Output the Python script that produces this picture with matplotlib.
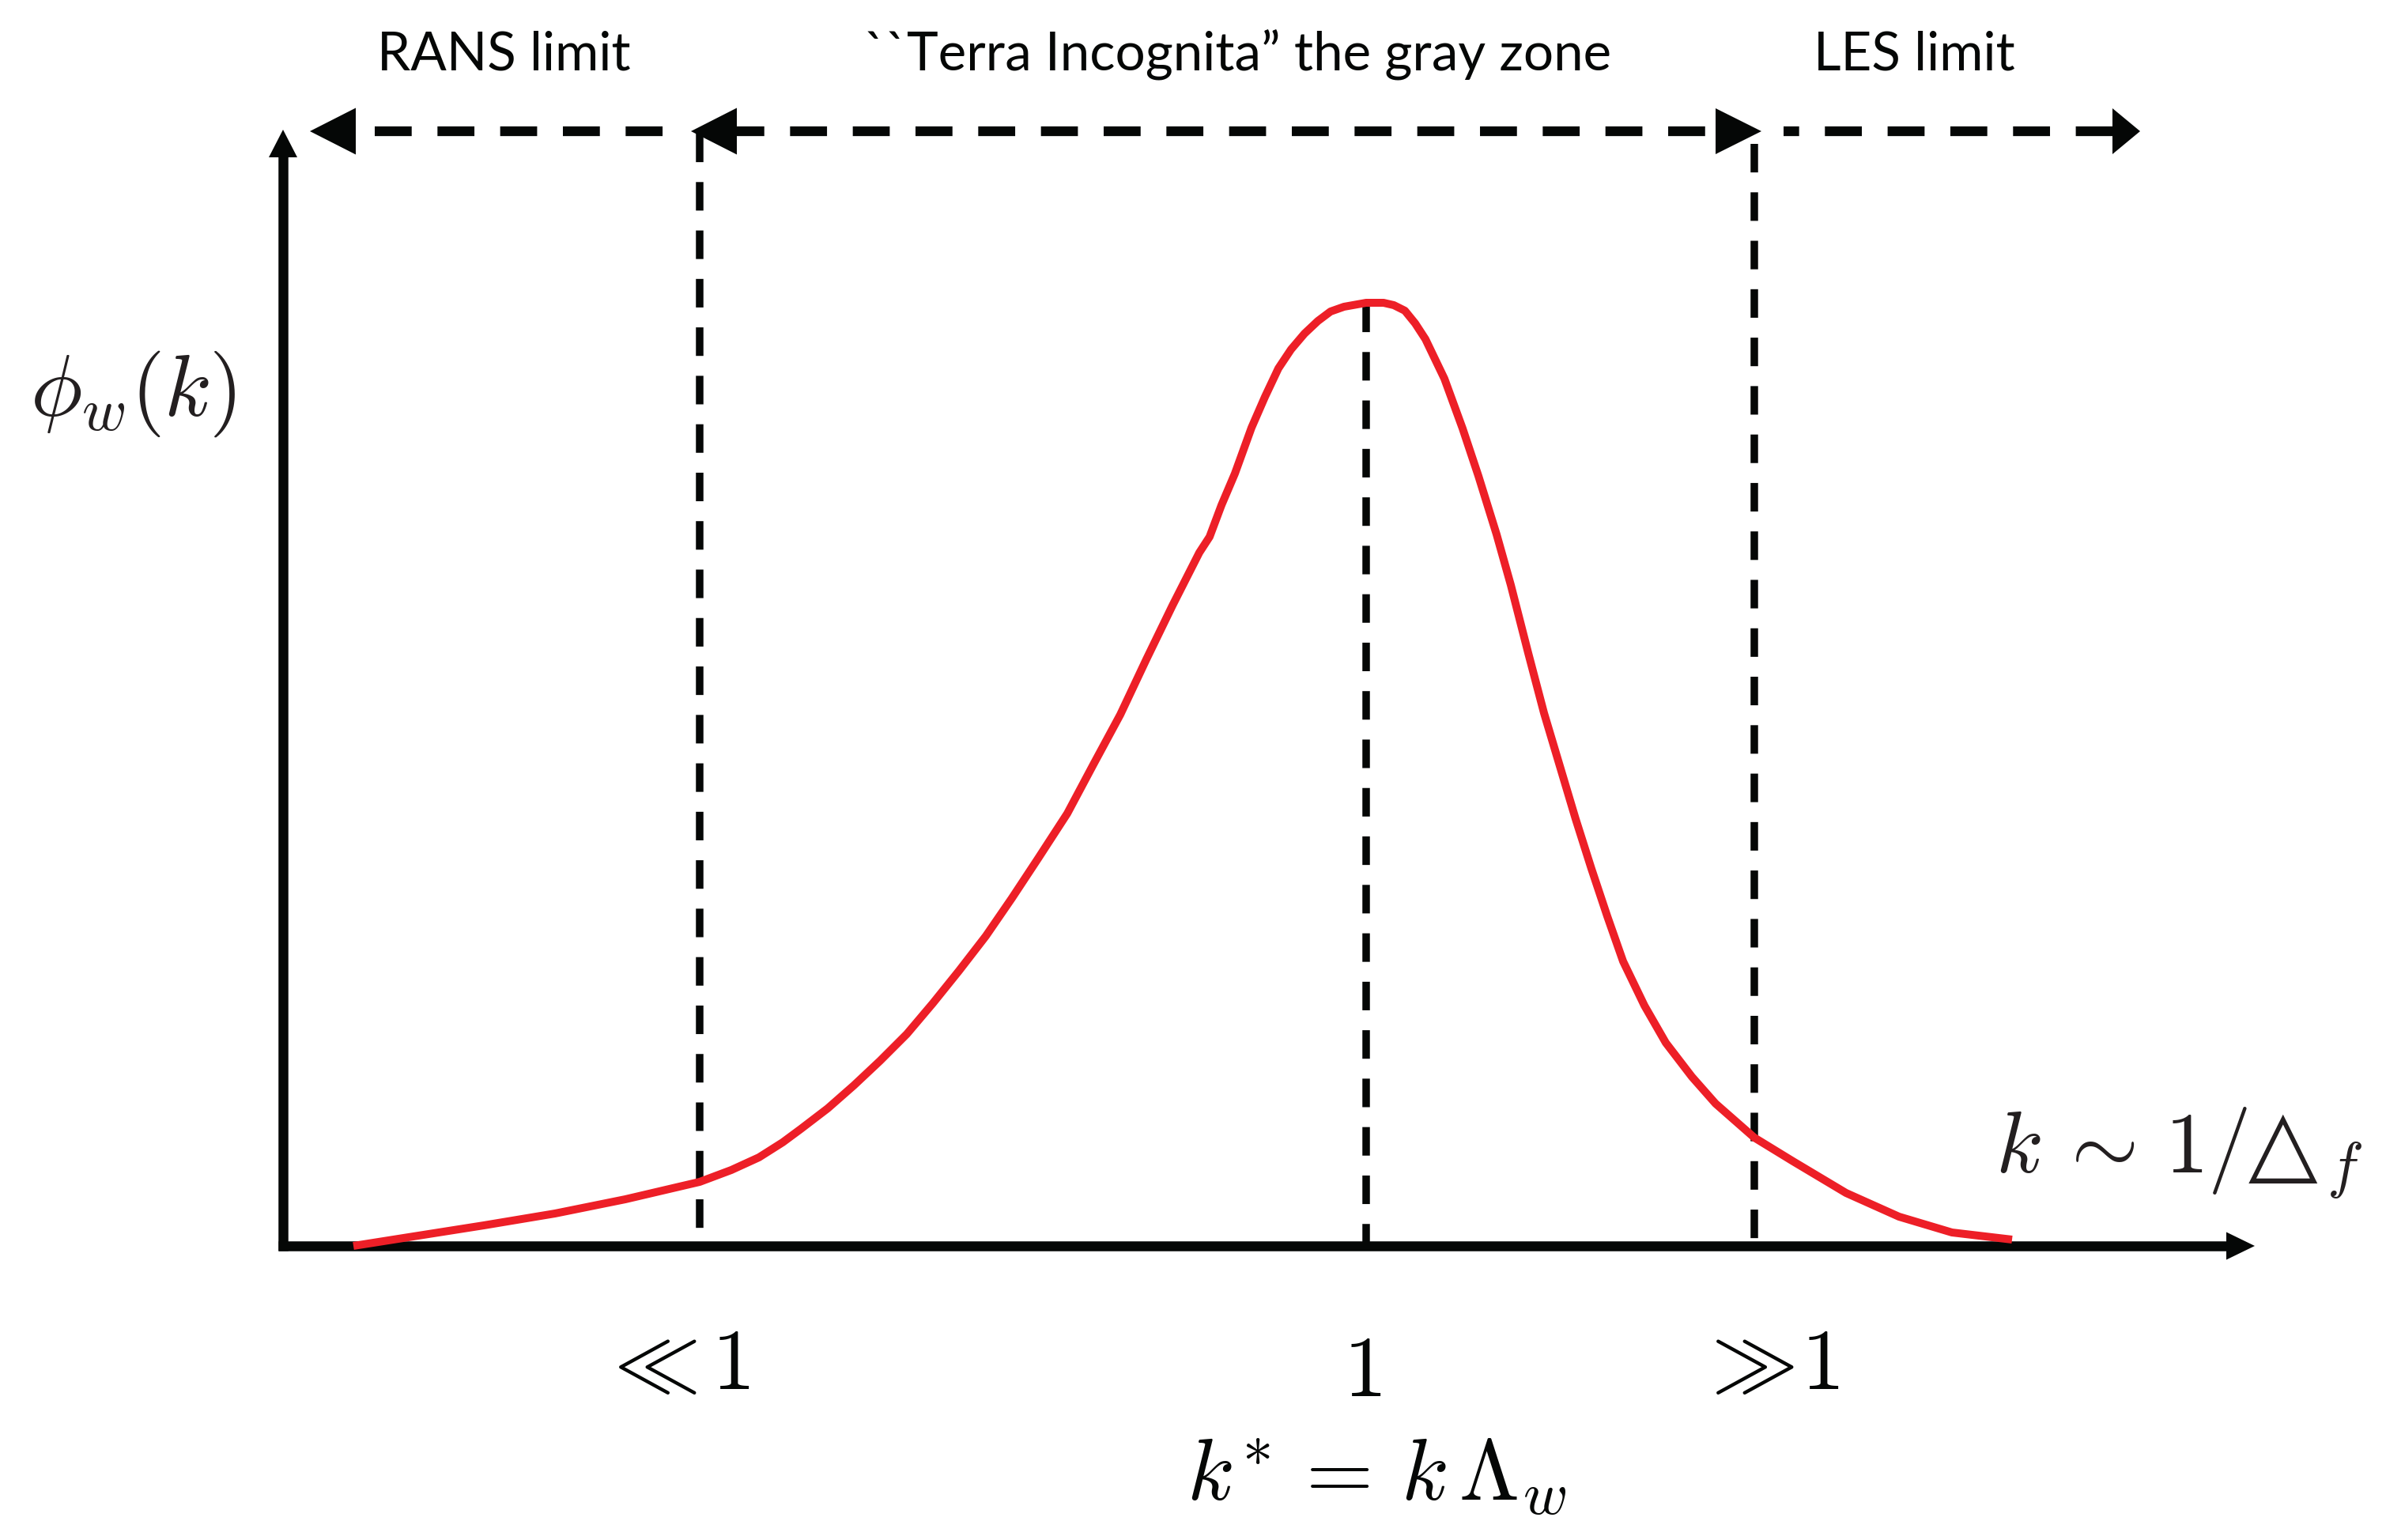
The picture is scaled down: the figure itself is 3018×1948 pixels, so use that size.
import matplotlib
matplotlib.use("Agg")
import matplotlib.pyplot as plt

# canvas is laid out in reference pixels (3018 x 1949), y grows downward
W, H = 3018, 1949
BLACK = "#050706"
INK = "#231F20"
RED = "#ED1F27"
PX = 0.72  # points per pixel at dpi 100

# red spectrum curve (pixel coords)
curve_x = [447, 523, 612, 702, 791, 885, 925, 960, 990, 1013, 1047, 1080, 1113, 1147,
           1180, 1213, 1247, 1280, 1313, 1350, 1383, 1417, 1450, 1483, 1517, 1530,
           1545, 1562, 1583, 1600, 1617, 1633, 1650, 1667, 1683, 1700, 1728, 1750,
           1763, 1777, 1790, 1803, 1827, 1850, 1870, 1893, 1911, 1933, 1953, 1973,
           1993, 2013, 2033, 2053, 2080, 2107, 2140, 2170, 2219, 2268, 2335, 2402,
           2469, 2545]
curve_y = [1577, 1565, 1551, 1536, 1518, 1496, 1481, 1465, 1446, 1429, 1403, 1374, 1343, 1309,
           1270, 1229, 1185, 1137, 1087, 1030, 968, 905, 835, 767, 700, 680,
           640, 600, 542, 503, 467, 443, 423, 407, 395, 389, 384, 384,
           387, 394, 410, 430, 480, 543, 603, 677, 741, 827, 903, 970,
           1037, 1100, 1160, 1217, 1273, 1320, 1363, 1397, 1440, 1470, 1510, 1540,
           1560, 1569]

# regime boundaries (k* << 1, k* = 1, k* >> 1)
bound_x = [885, 1728, 2219]
bound_top = [170, 385, 183]
bound_bot = [1570, 1577, 1589]

region_labels = ["RANS limit", "``Terra Incognita\u201d the gray zone", "LES limit"]
region_cx = [637, 1566, 2421]

DASH = (3.8, 2.65)


def head(ax, tip, direction, length, width):
    tx, ty = tip
    dx, dy = direction
    bx, by = tx - dx * length, ty - dy * length
    px, py = -dy, dx
    xs = [tx, bx + px * width / 2, bx - px * width / 2]
    ys = [ty, by + py * width / 2, by - py * width / 2]
    ax.fill(xs, ys, color=BLACK, lw=0, zorder=5)


plt.rcParams["mathtext.fontset"] = "cm"
fig = plt.figure(figsize=(W / 100, H / 100), dpi=100)
ax = fig.add_axes([0, 0, 1, 1])
ax.set_xlim(0, W)
ax.set_ylim(H, 0)
ax.axis("off")

# axes with arrowheads
ax.plot([358, 358], [1583, 195], color=BLACK, lw=12.5 * PX, solid_capstyle="butt", zorder=2)
head(ax, (358, 165), (0, -1), 35, 36)
ax.plot([352, 2820], [1577, 1577], color=BLACK, lw=12.5 * PX, solid_capstyle="butt", zorder=2)
head(ax, (2852, 1577), (1, 0), 36, 35)

# vertical dashed boundaries
for x, y0, y1 in zip(bound_x, bound_top, bound_bot):
    ax.plot([x, x], [y0, y1], color=BLACK, lw=9.5 * PX, linestyle=(0, DASH), zorder=2)

# top dashed arrows
top_y = 167
lw_top = 12.3 * PX
ax.plot([474, 842], [top_y, top_y], color=BLACK, lw=lw_top, linestyle=(0, DASH), zorder=2)
head(ax, (392, top_y), (-1, 0), 58, 59)
ax.plot([920, 2172], [top_y, top_y], color=BLACK, lw=lw_top, linestyle=(0, DASH), zorder=2)
head(ax, (874, top_y), (-1, 0), 58, 59)
head(ax, (2228, top_y), (1, 0), 58, 58)
ax.plot([2256, 2676], [top_y, top_y], color=BLACK, lw=lw_top, linestyle=(2.2, DASH), zorder=2)
head(ax, (2707, top_y), (1, 0), 35, 58)

# spectrum
ax.plot(curve_x, curve_y, color=RED, lw=10 * PX, solid_capstyle="butt",
        solid_joinstyle="round", zorder=3)

# region labels
for lab, cx in zip(region_labels, region_cx):
    ax.text(cx, 88, lab, ha="center", va="baseline", fontsize=48.5,
            family="Lato", color=BLACK)

# math labels
ms = 79
ax.text(38, 526, r"$\phi_w(k)$", ha="left", va="baseline", fontsize=ms, color=INK)

# k ~ 1/triangle_f, placed piece by piece to keep the TeX spacing
ax.text(2524, 1483, r"$k$", ha="left", va="baseline", fontsize=ms, color=INK)
ax.text(2600, 1483, r"$\sim$", ha="left", va="baseline", fontsize=ms, color=INK)
ax.text(2738, 1483, r"$1/$", ha="left", va="baseline", fontsize=ms, color=INK)
ax.text(2844, 1483, "\u25b3", ha="left", va="baseline", fontsize=82, color=INK,
        family="DejaVu Sans")
ax.text(2943, 1500, r"$f$", ha="left", va="baseline", fontsize=56, color=INK)

ax.text(757, 1757, r"$\ll$", ha="left", va="baseline", fontsize=ms, color=BLACK)
ax.text(900, 1757, r"$1$", ha="left", va="baseline", fontsize=ms, color=BLACK)
ax.text(1723, 1766, r"$1$", ha="center", va="baseline", fontsize=ms, color=BLACK)
ax.text(2145, 1757, r"$\gg$", ha="left", va="baseline", fontsize=ms, color=BLACK)
ax.text(2278, 1757, r"$1$", ha="left", va="baseline", fontsize=ms, color=BLACK)
ax.text(1501, 1897, r"$k^{*}\,=\,k\,\Lambda_w$", ha="left", va="baseline", fontsize=ms,
        color=BLACK)

fig.savefig("out.png", dpi=100, facecolor="white")
